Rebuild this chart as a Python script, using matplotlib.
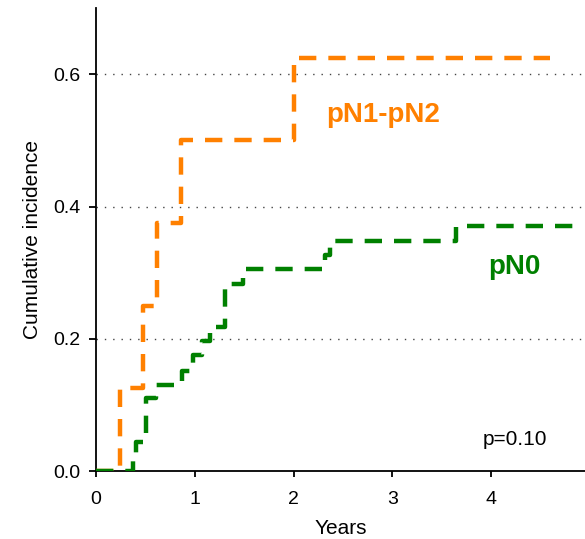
import matplotlib
matplotlib.use("Agg")
import matplotlib.pyplot as plt

plt.rcParams['font.family'] = ['Liberation Sans', 'DejaVu Sans']

# pN1-pN2 (orange)
t_n1 = [0.0, 0.24, 0.48, 0.62, 0.86, 2.0, 4.6]
v_n1 = [0.0, 0.125, 0.25, 0.375, 0.5, 0.625, 0.625]

# pN0 (green)
t_n0 = [0.0, 0.375, 0.41, 0.51, 0.61, 0.87, 0.98, 1.07, 1.15, 1.31, 1.49, 2.32, 2.37, 3.64, 4.93]
v_n0 = [0.0, 0.015, 0.044, 0.11, 0.13, 0.152, 0.175, 0.196, 0.218, 0.283, 0.305, 0.327, 0.348, 0.37, 0.37]

x_ticks = [0, 1, 2, 3, 4]
y_ticks = [0.0, 0.2, 0.4, 0.6]
y_ticklabels = ["0.0", "0.2", "0.4", "0.6"]

orange = "#ff8000"
green = "#008000"

fig = plt.figure(figsize=(5.85, 5.39), dpi=100)
ax = fig.add_axes([0.164, 0.126, 0.836, 0.859])

for y in y_ticks[1:]:
    ax.axhline(y, color="#444444", lw=1.0, ls=(0, (1, 5)), zorder=1)

ax.step(t_n1, v_n1, where="post", color=orange, lw=3.2, dashes=(3.9, 2.7), zorder=3)
ax.step(t_n0, v_n0, where="post", color=green, lw=3.2, dashes=(3.9, 2.7), zorder=3)

ax.text(2.91, 0.539, "pN1-pN2", color=orange, fontsize=20, fontweight="bold", ha="center", va="center")
ax.text(4.24, 0.308, "pN0", color=green, fontsize=20, fontweight="bold", ha="center", va="center")
ax.text(4.24, 0.047, "p=0.10", color="black", fontsize=15, ha="center", va="center")

ax.set_xlim(0, 4.95)
ax.set_ylim(0, 0.70)
ax.set_xticks(x_ticks)
ax.set_yticks(y_ticks)
ax.set_yticklabels(y_ticklabels)
ax.tick_params(axis="both", labelsize=14, width=1.3, direction="out")
ax.tick_params(axis="y", length=5, pad=6)
ax.tick_params(axis="x", length=4, pad=10)
ax.spines["top"].set_visible(False)
ax.spines["right"].set_visible(False)
ax.spines["left"].set_linewidth(1.3)
ax.spines["bottom"].set_linewidth(1.3)
ax.set_xlabel("Years", fontsize=15, labelpad=8)
ax.set_ylabel("Cumulative incidence", fontsize=15, labelpad=8)

fig.savefig("out.png", dpi=100)
